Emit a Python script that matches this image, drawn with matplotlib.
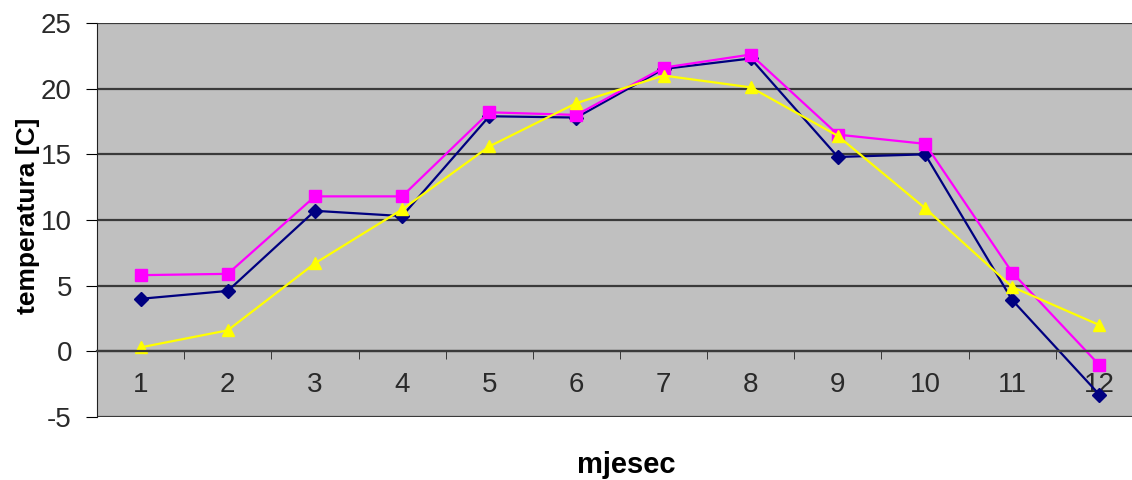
import matplotlib
matplotlib.use("Agg")
import matplotlib.pyplot as plt
import numpy as np

plt.rcParams['font.family'] = ['Liberation Sans', 'DejaVu Sans']
plt.rcParams['axes.unicode_minus'] = False

months = [1, 2, 3, 4, 5, 6, 7, 8, 9, 10, 11, 12]
navy_vals = [4.0, 4.6, 10.7, 10.3, 17.9, 17.8, 21.5, 22.3, 14.8, 15.0, 3.9, -3.3]
pink_vals = [5.8, 5.9, 11.8, 11.8, 18.2, 18.0, 21.6, 22.6, 16.5, 15.8, 6.0, -1.05]
yellow_vals = [0.3, 1.6, 6.7, 10.8, 15.6, 18.9, 21.0, 20.1, 16.4, 10.9, 4.9, 2.0]

fig = plt.figure(figsize=(11.32, 4.8), dpi=100)
ax = fig.add_axes([97 / 1132, 63 / 480, 1046 / 1132, 394 / 480])
ax.set_facecolor('#C0C0C0')

ax.set_xlim(0.5, 12.5)
ax.set_ylim(-5, 25)
ax.set_yticks(range(-5, 26, 5))
ax.yaxis.grid(True, color='#3a3a3a', linewidth=1.6)
ax.set_axisbelow(True)

ax.plot(months, navy_vals, color='#000080', marker='D', markersize=7, linewidth=1.6)
ax.plot(months, pink_vals, color='#FF00FF', marker='s', markersize=9, linewidth=1.6)
ax.plot(months, yellow_vals, color='#FFFF00', marker='^', markersize=9, linewidth=1.6)

for s in ['top', 'right']:
    ax.spines[s].set_visible(False)
ax.spines['left'].set_color('#202020')
ax.spines['bottom'].set_position(('data', 0))
ax.spines['bottom'].set_color('#3a3a3a')
ax.spines['bottom'].set_linewidth(1.6)

ax.set_xticks(months)
ax.set_xticklabels([str(m) for m in months])
ax.set_xticks(np.arange(1.5, 12.5, 1), minor=True)
ax.tick_params(axis='x', which='major', length=0, pad=15, labelsize=20, labelcolor='#2a2a2a')
ax.tick_params(axis='x', which='minor', length=6, direction='out', color='#202020')
ax.tick_params(axis='y', length=8, direction='out', labelsize=20, labelcolor='#2a2a2a', pad=10)

fig.text(28 / 1132, 1 - 216 / 480, 'temperatura [C]', rotation=90, ha='center', va='center',
         fontsize=19, fontweight='bold')
fig.text(626 / 1132, 1 - 465 / 480, 'mjesec', ha='center', va='center', fontsize=21, fontweight='bold')

fig.savefig('out.png', dpi=100)
